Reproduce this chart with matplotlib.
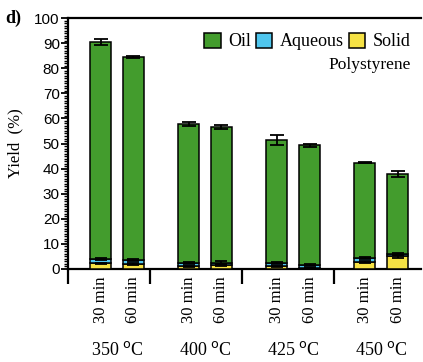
import numpy as np
import matplotlib.pyplot as plt
from matplotlib.patches import Patch
from matplotlib.ticker import MultipleLocator, FixedLocator, NullFormatter

# yields (%) for polystyrene, per bar: 350/400/425/450 C x 30/60 min
temps = ["350", "400", "425", "450"]
times = ["30 min", "60 min"]
solid = [2.2, 2.0, 1.0, 1.5, 1.0, 0.3, 2.7, 5.0]
solid_err = [0.3, 0.3, 0.2, 0.3, 0.2, 0.1, 0.3, 0.5]
aqueous = [1.8, 1.6, 1.3, 1.0, 1.3, 1.3, 1.5, 1.0]
aqueous_err = [0.4, 0.5, 0.4, 0.5, 0.4, 0.3, 0.4, 0.4]
oil = [86.5, 81.0, 55.5, 54.1, 49.2, 47.7, 38.1, 32.0]
oil_err = [1.3, 0.4, 0.8, 0.9, 2.0, 0.6, 0.2, 1.2]

GREEN, BLUE, YELLOW = "#439c2d", "#4fc6ee", "#f6e244"
SERIF = "Liberation Serif"
SANS = "Liberation Sans"

fig = plt.figure(figsize=(4.23, 3.62), dpi=100)
ax = fig.add_axes([0.161, 0.257, 0.835, 0.693])

offset, width = 0.186, 0.237
xs = np.array([g + s * offset for g in range(len(temps)) for s in (-1, 1)])
solid = np.array(solid)
aqueous = np.array(aqueous)
oil = np.array(oil)

ekw = dict(elinewidth=1.3, capthick=1.3, ecolor="black")
ax.bar(xs, solid, width, color=YELLOW, edgecolor="black", lw=1.1,
       yerr=solid_err, capsize=4, error_kw=ekw, zorder=3)
ax.bar(xs, aqueous, width, bottom=solid, color=BLUE, edgecolor="black", lw=1.1,
       yerr=aqueous_err, capsize=4, error_kw=ekw, zorder=3)
ax.bar(xs, oil, width, bottom=solid + aqueous, color=GREEN, edgecolor="black", lw=1.1,
       yerr=oil_err, capsize=5, error_kw=ekw, zorder=3)

ax.set_xlim(-0.555, 3.455)
ax.set_ylim(0, 100)
ax.spines["right"].set_visible(False)
for s in ("top", "left", "bottom"):
    ax.spines[s].set_linewidth(1.6)

# y axis
ax.yaxis.set_major_locator(MultipleLocator(10))
ax.yaxis.set_minor_locator(MultipleLocator(1))
ax.tick_params(axis="y", which="major", length=5, width=1.3, labelsize=11, pad=1)
ax.tick_params(axis="y", which="minor", length=3, width=1.0)
for lab in ax.get_yticklabels():
    lab.set_fontfamily(SANS)
ax.set_ylabel("Yield  (%)", family=SERIF, fontsize=12, labelpad=8)

# x axis: group separators as long ticks
seps = [-0.555, 0.373, 1.417, 2.469]
ax.xaxis.set_major_locator(FixedLocator(seps))
ax.xaxis.set_major_formatter(NullFormatter())
ax.tick_params(axis="x", which="major", length=11, width=1.6, direction="out")

for x, t in zip(xs, times * len(temps)):
    ax.text(x, -3, t, rotation=90, ha="center", va="top", family=SERIF, fontsize=12,
            clip_on=False)
for g, t in enumerate(temps):
    ax.text(g, -32.5, t + r" $^{\mathrm{o}}$C", ha="center", va="center",
            family=SERIF, fontsize=13, clip_on=False)

handles = [Patch(facecolor=c, edgecolor="black", lw=1.1) for c in (GREEN, BLUE, YELLOW)]
ax.legend(handles, ["Oil", "Aqueous", "Solid"], ncol=3, loc="upper right",
          bbox_to_anchor=(1.0, 0.985), frameon=False, prop={"family": SERIF, "size": 13},
          handlelength=0.9, handleheight=0.9, handletextpad=0.4, columnspacing=0.3,
          borderaxespad=0.2)
ax.text(0.97, 0.815, "Polystyrene", transform=ax.transAxes, ha="right", va="center",
        family=SERIF, fontsize=12.5)

fig.text(0.012, 0.948, "d)", family=SERIF, fontweight="bold", fontsize=13, va="center")

fig.savefig("out.png", dpi=100)
